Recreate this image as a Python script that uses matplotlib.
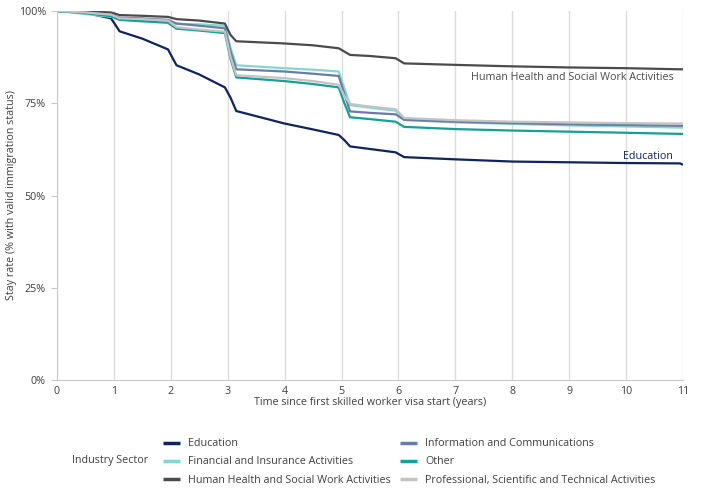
import matplotlib.pyplot as plt
from matplotlib.ticker import FuncFormatter

# Роки з першого старту візи (опорні точки)
years = [0, 0.5, 0.95, 1.1, 1.5, 1.95, 2.1, 2.5, 2.95, 3.05, 3.15, 4.0, 4.5,
         4.95, 5.05, 5.15, 5.5, 5.95, 6.1, 7, 8, 9, 10, 10.95, 11]

education = [100, 99.5, 98.0, 94.5, 92.5, 89.6, 85.3, 82.8, 79.3, 76.5, 72.9, 69.5, 67.9,
             66.4, 65.0, 63.3, 62.6, 61.7, 60.4, 59.8, 59.2, 59.0, 58.8, 58.7, 58.3]
financial = [100, 99.2, 98.4, 97.8, 97.6, 97.2, 96.5, 96.4, 96.0, 90.0, 85.3, 84.5, 84.1,
             83.6, 79.0, 74.5, 73.8, 73.0, 70.5, 69.8, 69.4, 69.0, 68.7, 68.4, 68.4]
health = [100, 99.9, 99.6, 98.9, 98.7, 98.4, 97.8, 97.4, 96.6, 93.5, 91.8, 91.2, 90.7,
          89.9, 89.0, 88.1, 87.8, 87.2, 85.8, 85.4, 85.0, 84.7, 84.5, 84.2, 84.2]
information = [100, 99.6, 99.0, 98.2, 98.0, 97.6, 96.6, 96.0, 95.3, 89.0, 84.2, 83.6, 83.0,
               82.4, 77.5, 72.8, 72.4, 72.0, 70.5, 70.0, 69.6, 69.3, 69.1, 68.9, 68.9]
other = [100, 99.4, 98.6, 97.6, 97.2, 96.8, 95.2, 94.7, 94.0, 87.0, 82.0, 81.0, 80.2,
         79.3, 75.0, 71.2, 70.7, 70.0, 68.6, 68.0, 67.6, 67.3, 67.0, 66.7, 66.7]
professional = [100, 99.6, 99.0, 98.0, 97.8, 97.4, 95.6, 95.0, 94.4, 87.5, 82.6, 81.8, 81.0,
                80.0, 77.0, 74.8, 74.1, 73.4, 71.0, 70.4, 70.0, 69.8, 69.6, 69.5, 69.5]

sectors = ['Education', 'Financial and Insurance Activities',
           'Human Health and Social Work Activities', 'Information and Communications',
           'Other', 'Professional, Scientific and Technical Activities']
series = [education, financial, health, information, other, professional]
colors = ['#0f235f', '#82d8d0', '#4b4b4b', '#6b7ca6', '#12a196', '#c3c3c3']

plt.rcParams['font.family'] = ['Open Sans', 'DejaVu Sans']
text_col = '#404040'
fs = 7.75

fig = plt.figure(figsize=(7.02, 4.97), dpi=100)
ax = fig.add_axes([57 / 702, 1 - 380 / 497, (683 - 57) / 702, (380 - 11) / 497])

handles = []
for name, vals, c in zip(sectors, series, colors):
    ln, = ax.plot(years, vals, color=c, lw=1.6, label=name, solid_capstyle='butt')
    handles.append(ln)

ax.set_xlim(0, 11)
ax.set_ylim(0, 100)
ax.set_xticks(range(0, 12))
ax.set_yticks([0, 25, 50, 75, 100])
ax.yaxis.set_major_formatter(FuncFormatter(lambda v, p: f'{int(v)}%'))
ax.grid(axis='x', color='#dcdcdc', lw=1)
ax.set_axisbelow(True)
for s in ['top', 'right']:
    ax.spines[s].set_visible(False)
for s in ['left', 'bottom']:
    ax.spines[s].set_color('#c8c8c8')
ax.tick_params(axis='y', length=4, color='#c8c8c8', labelsize=fs, labelcolor=text_col, pad=4)
ax.tick_params(axis='x', length=0, labelsize=fs, labelcolor=text_col, pad=4)
ax.set_xlabel('Time since first skilled worker visa start (years)', fontsize=fs,
              color=text_col, labelpad=0)
ax.set_ylabel('Stay rate (% with valid immigration status)', fontsize=fs,
              color=text_col, labelpad=1.5)

# Підписи на кінцях ліній
ax.text(10.83, 82.1, 'Human Health and Social Work Activities', ha='right',
        va='center', fontsize=fs, color='#4b4b4b')
ax.text(10.83, 60.7, 'Education', ha='right', va='center',
        fontsize=fs, color='#0f235f')

leg = fig.legend(handles=handles, ncol=2, loc='upper left',
                 bbox_to_anchor=(158 / 702, 1 - 433 / 497), frameon=False,
                 fontsize=fs, handlelength=1.58, handletextpad=0.75,
                 columnspacing=0.85, labelspacing=0.66, borderpad=0)
for t in leg.get_texts():
    t.set_color(text_col)
for h in leg.legend_handles:
    h.set_linewidth(2.5)
fig.text(72 / 702, 1 - 460 / 497, 'Industry Sector', fontsize=fs, color=text_col,
         ha='left', va='center')

fig.savefig('out.png', dpi=100)
